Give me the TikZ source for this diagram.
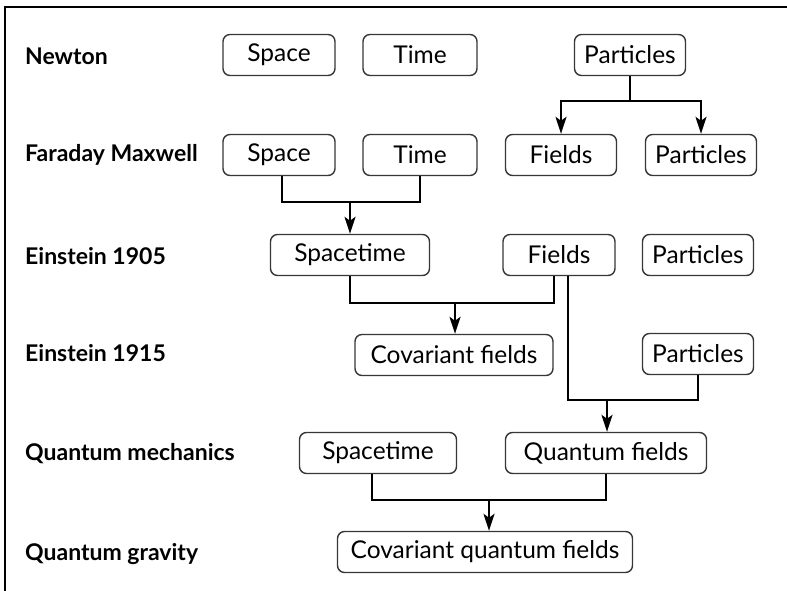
\documentclass[tikz,border=0pt]{standalone}
\usepackage{fontspec}
\setmainfont{Lato}
\usepackage{tikz}
\usetikzlibrary{arrows.meta,calc}
\definecolor{bLine}{RGB}{55,55,55}
\tikzset{
  era/.style={anchor=west, inner sep=0pt,
              font=\fontsize{23}{27}\selectfont\bfseries},
  idea/.style={rectangle, rounded corners=7pt, draw=bLine, line width=1.4pt,
               fill=white, minimum height=41pt, inner sep=0pt, align=center,
               font=\fontsize{24.5}{28}\selectfont},
  link/.style={draw=black, line width=2pt},
  flow/.style={link, -{Stealth[length=17pt,width=11pt,inset=4pt]}},
}

\begin{document}
\begin{tikzpicture}[x=1pt,y=-1pt]
  \useasboundingbox (0,0) rectangle (787,591);
  % --- frame (top and left edge only) ---
  \draw[line width=2pt] (5,591) -- (5,7) -- (787,7);

  % --- row labels ---
  \node[era] (lNew) at (25,56){Newton};
  \node[era] (lFM)  at (25,155){Faraday Maxwell};
  \node[era] (lE05) at (25,256){Einstein 1905};
  \node[era] (lE15) at (25,353){Einstein 1915};
  \node[era] (lQM)  at (25,454){Quantum mechanics};
  \node[era] (lQG)  at (25,554){Quantum gravity};

  % --- Newton ---
  \node[idea, minimum width=112pt] (nSpace) at (279,55){Space};
  \node[idea, minimum width=114pt] (nTime)  at (420,55){Time};
  \node[idea, minimum width=111pt] (nPart)  at (630,55){Particles};

  % --- Faraday Maxwell ---
  \node[idea, minimum width=112pt] (fSpace)  at (279,155){Space};
  \node[idea, minimum width=114pt] (fTime)   at (420,155){Time};
  \node[idea, minimum width=111pt] (fFields) at (561,155){Fields};
  \node[idea, minimum width=111pt] (fPart)   at (701,155){Particles};

  % --- Einstein 1905 ---
  \node[idea, minimum width=159pt] (eSt)     at (350,255){Spacetime};
  \node[idea, minimum width=112pt] (eFields) at (559,255){Fields};
  \node[idea, minimum width=111pt] (ePart)   at (698,255){Particles};

  % --- Einstein 1915 ---
  \node[idea, minimum width=198pt] (gCov)  at (454,355){Covariant fields};
  \node[idea, minimum width=111pt] (gPart) at (698,354){Particles};

  % --- Quantum mechanics ---
  \node[idea, minimum width=157pt] (qSt)     at (378,453){Spacetime};
  \node[idea, minimum width=201pt] (qFields) at (606,453){Quantum fields};

  % --- Quantum gravity ---
  \node[idea, minimum width=295pt] (qgCov) at (485,552){Covariant quantum fields};

  % --- particles split into fields and particles ---
  \coordinate (j1) at (630,101);
  \draw[link] (nPart.south) -- (j1);
  \draw[flow] (j1) -| (fFields.north);
  \draw[flow] (j1) -| (fPart.north);

  % --- space + time -> spacetime ---
  \coordinate (j2) at (350,202);
  \draw[link] ([xshift=3pt]fSpace.south) |- (j2) -| (fTime.south);
  \draw[flow] (j2) -- (j2 |- eSt.north);

  % --- spacetime + fields -> covariant fields ---
  \coordinate (j3) at (455,303);
  \draw[link] (eSt.south) |- (j3) -| ([xshift=-5pt]eFields.south);
  \draw[flow] (j3) -- (j3 |- gCov.north);

  % --- fields + particles -> quantum fields ---
  \coordinate (j4) at (607,400);
  \draw[link] ([xshift=9pt]eFields.south) |- (j4) -| (gPart.south);
  \draw[flow] (j4) -- (j4 |- qFields.north);

  % --- spacetime + quantum fields -> covariant quantum fields ---
  \coordinate (j5) at (489,500);
  \draw[link] ([xshift=-6pt]qSt.south) |- (j5) -| (qFields.south);
  \draw[flow] (j5) -- (j5 |- qgCov.north);
\end{tikzpicture}
\end{document}
